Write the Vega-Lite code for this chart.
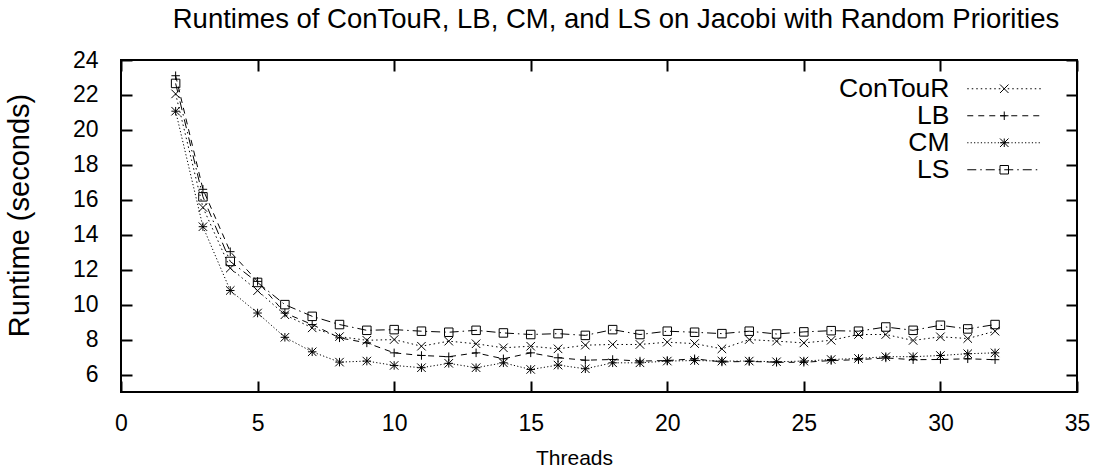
{
  "$schema": "https://vega.github.io/schema/vega-lite/v6.json",
  "width": 956,
  "height": 332,
  "autosize": "none",
  "padding": {"left": 121, "top": 60, "right": 24, "bottom": 83},
  "background": "white",
  "config": {
    "font": "Liberation Sans",
    "view": {"stroke": "black", "strokeWidth": 2},
    "axis": {"grid": false, "domain": false, "tickColor": "black", "tickWidth": 2, "tickSize": 11, "labelColor": "black", "titleColor": "black", "labelFont": "Liberation Sans", "titleFont": "Liberation Sans", "labelFontSize": 23, "titleFontSize": 21, "titleFontWeight": "normal", "labelFlush": false}
  },
  "title": {"text": "Runtimes of ConTouR, LB, CM, and LS on Jacobi with Random Priorities", "fontSize": 27.5, "fontWeight": "normal", "font": "Liberation Sans", "color": "black", "frame": "group", "anchor": "middle", "offset": 16, "dx": 17},
  "data": {"values": [
    {"threads": 2, "series": "ConTouR", "runtime": 22.06},
    {"threads": 3, "series": "ConTouR", "runtime": 15.56},
    {"threads": 4, "series": "ConTouR", "runtime": 12.09},
    {"threads": 5, "series": "ConTouR", "runtime": 10.8},
    {"threads": 6, "series": "ConTouR", "runtime": 9.42},
    {"threads": 7, "series": "ConTouR", "runtime": 8.67},
    {"threads": 8, "series": "ConTouR", "runtime": 8.17},
    {"threads": 9, "series": "ConTouR", "runtime": 7.96},
    {"threads": 10, "series": "ConTouR", "runtime": 8.0},
    {"threads": 11, "series": "ConTouR", "runtime": 7.62},
    {"threads": 12, "series": "ConTouR", "runtime": 7.91},
    {"threads": 13, "series": "ConTouR", "runtime": 7.76},
    {"threads": 14, "series": "ConTouR", "runtime": 7.53},
    {"threads": 15, "series": "ConTouR", "runtime": 7.62},
    {"threads": 16, "series": "ConTouR", "runtime": 7.47},
    {"threads": 17, "series": "ConTouR", "runtime": 7.68},
    {"threads": 18, "series": "ConTouR", "runtime": 7.72},
    {"threads": 19, "series": "ConTouR", "runtime": 7.72},
    {"threads": 20, "series": "ConTouR", "runtime": 7.85},
    {"threads": 21, "series": "ConTouR", "runtime": 7.77},
    {"threads": 22, "series": "ConTouR", "runtime": 7.47},
    {"threads": 23, "series": "ConTouR", "runtime": 8.0},
    {"threads": 24, "series": "ConTouR", "runtime": 7.91},
    {"threads": 25, "series": "ConTouR", "runtime": 7.81},
    {"threads": 26, "series": "ConTouR", "runtime": 7.96},
    {"threads": 27, "series": "ConTouR", "runtime": 8.29},
    {"threads": 28, "series": "ConTouR", "runtime": 8.29},
    {"threads": 29, "series": "ConTouR", "runtime": 7.95},
    {"threads": 30, "series": "ConTouR", "runtime": 8.16},
    {"threads": 31, "series": "ConTouR", "runtime": 8.06},
    {"threads": 32, "series": "ConTouR", "runtime": 8.48},
    {"threads": 2, "series": "LB", "runtime": 23.1},
    {"threads": 3, "series": "LB", "runtime": 16.6},
    {"threads": 4, "series": "LB", "runtime": 13.03},
    {"threads": 5, "series": "LB", "runtime": 11.33},
    {"threads": 6, "series": "LB", "runtime": 9.52},
    {"threads": 7, "series": "LB", "runtime": 8.86},
    {"threads": 8, "series": "LB", "runtime": 8.1},
    {"threads": 9, "series": "LB", "runtime": 7.81},
    {"threads": 10, "series": "LB", "runtime": 7.24},
    {"threads": 11, "series": "LB", "runtime": 7.09},
    {"threads": 12, "series": "LB", "runtime": 7.02},
    {"threads": 13, "series": "LB", "runtime": 7.24},
    {"threads": 14, "series": "LB", "runtime": 6.9},
    {"threads": 15, "series": "LB", "runtime": 7.24},
    {"threads": 16, "series": "LB", "runtime": 6.96},
    {"threads": 17, "series": "LB", "runtime": 6.82},
    {"threads": 18, "series": "LB", "runtime": 6.86},
    {"threads": 19, "series": "LB", "runtime": 6.77},
    {"threads": 20, "series": "LB", "runtime": 6.8},
    {"threads": 21, "series": "LB", "runtime": 6.9},
    {"threads": 22, "series": "LB", "runtime": 6.72},
    {"threads": 23, "series": "LB", "runtime": 6.75},
    {"threads": 24, "series": "LB", "runtime": 6.7},
    {"threads": 25, "series": "LB", "runtime": 6.7},
    {"threads": 26, "series": "LB", "runtime": 6.8},
    {"threads": 27, "series": "LB", "runtime": 6.85},
    {"threads": 28, "series": "LB", "runtime": 6.95},
    {"threads": 29, "series": "LB", "runtime": 6.85},
    {"threads": 30, "series": "LB", "runtime": 6.86},
    {"threads": 31, "series": "LB", "runtime": 6.9},
    {"threads": 32, "series": "LB", "runtime": 6.85},
    {"threads": 2, "series": "CM", "runtime": 21.07},
    {"threads": 3, "series": "CM", "runtime": 14.46},
    {"threads": 4, "series": "CM", "runtime": 10.81},
    {"threads": 5, "series": "CM", "runtime": 9.52},
    {"threads": 6, "series": "CM", "runtime": 8.13},
    {"threads": 7, "series": "CM", "runtime": 7.3},
    {"threads": 8, "series": "CM", "runtime": 6.71},
    {"threads": 9, "series": "CM", "runtime": 6.77},
    {"threads": 10, "series": "CM", "runtime": 6.52},
    {"threads": 11, "series": "CM", "runtime": 6.39},
    {"threads": 12, "series": "CM", "runtime": 6.64},
    {"threads": 13, "series": "CM", "runtime": 6.39},
    {"threads": 14, "series": "CM", "runtime": 6.67},
    {"threads": 15, "series": "CM", "runtime": 6.29},
    {"threads": 16, "series": "CM", "runtime": 6.54},
    {"threads": 17, "series": "CM", "runtime": 6.33},
    {"threads": 18, "series": "CM", "runtime": 6.67},
    {"threads": 19, "series": "CM", "runtime": 6.67},
    {"threads": 20, "series": "CM", "runtime": 6.77},
    {"threads": 21, "series": "CM", "runtime": 6.8},
    {"threads": 22, "series": "CM", "runtime": 6.77},
    {"threads": 23, "series": "CM", "runtime": 6.77},
    {"threads": 24, "series": "CM", "runtime": 6.73},
    {"threads": 25, "series": "CM", "runtime": 6.77},
    {"threads": 26, "series": "CM", "runtime": 6.86},
    {"threads": 27, "series": "CM", "runtime": 6.92},
    {"threads": 28, "series": "CM", "runtime": 7.02},
    {"threads": 29, "series": "CM", "runtime": 7.02},
    {"threads": 30, "series": "CM", "runtime": 7.09},
    {"threads": 31, "series": "CM", "runtime": 7.19},
    {"threads": 32, "series": "CM", "runtime": 7.24},
    {"threads": 2, "series": "LS", "runtime": 22.66},
    {"threads": 3, "series": "LS", "runtime": 16.17},
    {"threads": 4, "series": "LS", "runtime": 12.47},
    {"threads": 5, "series": "LS", "runtime": 11.27},
    {"threads": 6, "series": "LS", "runtime": 10.0},
    {"threads": 7, "series": "LS", "runtime": 9.33},
    {"threads": 8, "series": "LS", "runtime": 8.86},
    {"threads": 9, "series": "LS", "runtime": 8.53},
    {"threads": 10, "series": "LS", "runtime": 8.57},
    {"threads": 11, "series": "LS", "runtime": 8.48},
    {"threads": 12, "series": "LS", "runtime": 8.42},
    {"threads": 13, "series": "LS", "runtime": 8.53},
    {"threads": 14, "series": "LS", "runtime": 8.38},
    {"threads": 15, "series": "LS", "runtime": 8.29},
    {"threads": 16, "series": "LS", "runtime": 8.34},
    {"threads": 17, "series": "LS", "runtime": 8.24},
    {"threads": 18, "series": "LS", "runtime": 8.57},
    {"threads": 19, "series": "LS", "runtime": 8.29},
    {"threads": 20, "series": "LS", "runtime": 8.48},
    {"threads": 21, "series": "LS", "runtime": 8.42},
    {"threads": 22, "series": "LS", "runtime": 8.34},
    {"threads": 23, "series": "LS", "runtime": 8.48},
    {"threads": 24, "series": "LS", "runtime": 8.32},
    {"threads": 25, "series": "LS", "runtime": 8.44},
    {"threads": 26, "series": "LS", "runtime": 8.51},
    {"threads": 27, "series": "LS", "runtime": 8.48},
    {"threads": 28, "series": "LS", "runtime": 8.72},
    {"threads": 29, "series": "LS", "runtime": 8.53},
    {"threads": 30, "series": "LS", "runtime": 8.82},
    {"threads": 31, "series": "LS", "runtime": 8.61},
    {"threads": 32, "series": "LS", "runtime": 8.86}
  ]},
  "layer": [
    {
      "mark": {"type": "line", "color": "black", "strokeWidth": 1},
      "encoding": {
        "x": {"field": "threads", "type": "quantitative", "scale": {"domain": [0, 35], "nice": false}, "axis": {"orient": "bottom", "offset": -11, "values": [0, 5, 10, 15, 20, 25, 30, 35], "title": "Threads", "labelPadding": 20, "titlePadding": 12, "titleX": 453}},
        "y": {"field": "runtime", "type": "quantitative", "scale": {"domain": [5, 24], "nice": false, "zero": false}, "axis": {"orient": "left", "offset": -11, "values": [6, 8, 10, 12, 14, 16, 18, 20, 22, 24], "title": "Runtime (seconds)", "titleFontSize": 29, "labelPadding": 23, "titlePadding": 38, "titleY": 155}},
        "strokeDash": {"field": "series", "type": "nominal", "scale": {"domain": ["ConTouR", "LB", "CM", "LS"], "range": [[1.5, 3], [6, 5], [1.2, 2.2], [9, 4, 1.5, 4]]},
          "legend": {"orient": "none", "legendX": 796, "legendY": 15.5, "title": null, "padding": 0, "symbolType": "M-11.1,0M3.7,0H11.1", "symbolSize": 400, "symbolStrokeColor": "black", "symbolStrokeWidth": 1, "labelFontSize": 26.5, "labelFont": "Liberation Sans", "labelColor": "black", "labelAlign": "right", "labelOffset": 6, "rowPadding": 0, "labelLimit": 0}}
      }
    },
    {
      "mark": {"type": "point", "filled": false, "color": "black", "strokeWidth": 1, "size": 72, "opacity": 1},
      "encoding": {
        "x": {"field": "threads", "type": "quantitative", "axis": {"orient": "top", "offset": -11, "labels": false, "title": null, "values": [0, 5, 10, 15, 20, 25, 30, 35]}},
        "y": {"field": "runtime", "type": "quantitative", "axis": {"orient": "right", "offset": -11, "labels": false, "title": null, "values": [6, 8, 10, 12, 14, 16, 18, 20, 22, 24]}},
        "shape": {"field": "series", "type": "nominal", "sort": ["ConTouR", "LB", "CM", "LS"], "scale": {"range": ["M-1,-1L1,1M-1,1L1,-1", "M-1,0H1M0,-1V1", "M-1,0H1M0,-1V1M-1,-1L1,1M-1,1L1,-1", "M-1,-1H1V1H-1Z"]},
          "legend": {"orient": "none", "legendX": 870, "legendY": 15.5, "title": null, "padding": 0, "symbolSize": 72, "symbolStrokeColor": "black", "symbolFillColor": "transparent", "symbolStrokeWidth": 1, "labelFontSize": 26.5, "labelOpacity": 0, "rowPadding": 0}}
      }
    }
  ],
  "resolve": {"axis": {"x": "independent", "y": "independent"}}
}
